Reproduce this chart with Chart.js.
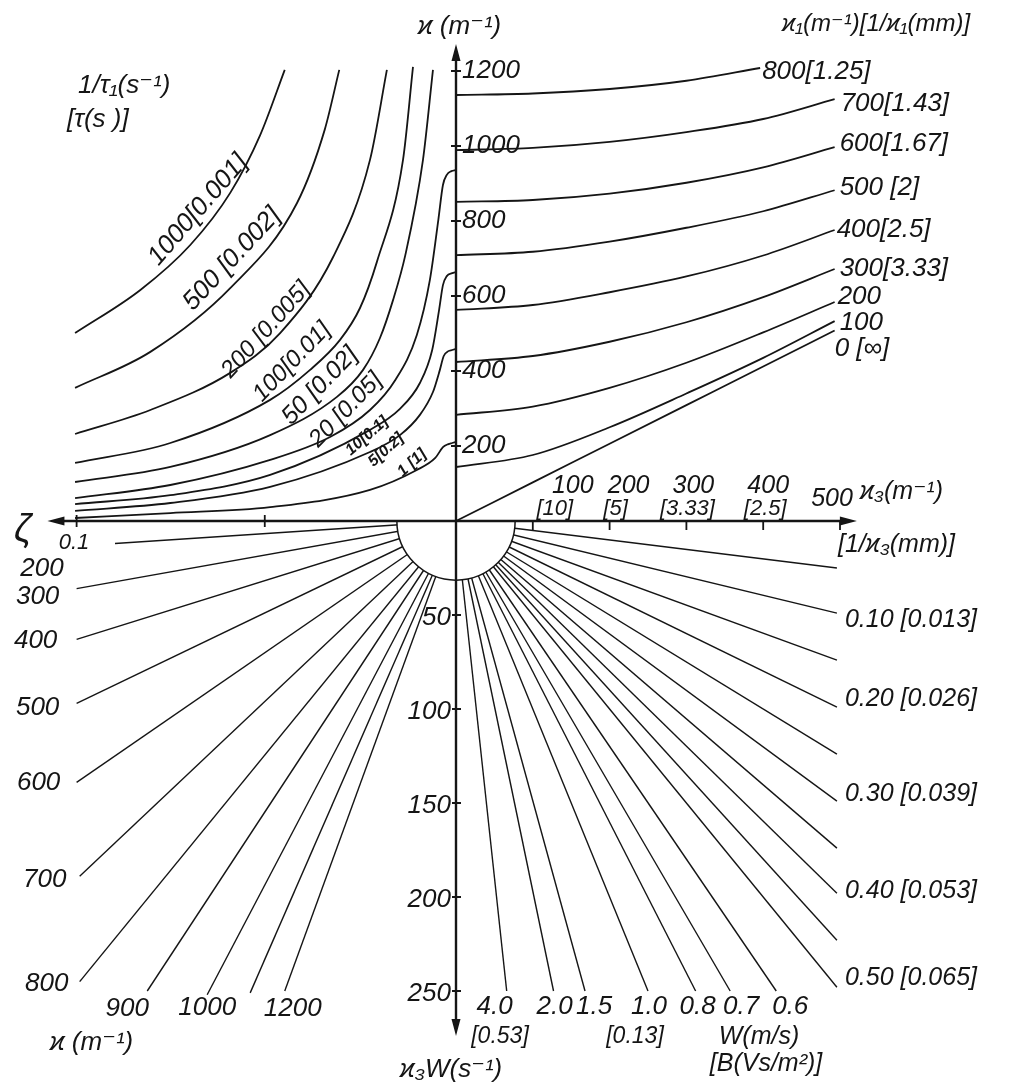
<!DOCTYPE html>
<html lang="en">
<head>
    <meta charset="UTF-8">
    <title>Nomogram</title>
    <script src="https://cdn.jsdelivr.net/npm/chart.js@4"></script>
    <style>
        html, body { margin: 0; padding: 0; background: #fff; overflow: hidden; }
        #wrap { width: 1010px; height: 1089px; position: relative; }
    </style>
</head>
<body>
<div id="wrap"><canvas id="nomo"></canvas></div>
<script>
// ---- values ----
// x runs in kappa3 units (m^-1), upper half in kappa (m^-1), lower half in kappa3*W (s^-1)

// upper right: kappa against kappa3, one curve per kappa1
const k1Tags = ['0 [∞]', '100', '200', '300[3.33]', '400[2.5]', '500 [2]', '600[1.67]', '700[1.43]', '800[1.25]'];
const k3Grid = [0, 100, 200, 300, 400, 493];
const k3Grid800 = [0, 100, 200, 300, 396];
const kappaByK1 = [
    [0, 103, 206, 309, 412, 508],
    [144, 176, 250, 340, 435, 533],
    [283, 305, 355, 422, 503, 584],
    [424, 440, 478, 530, 597, 672],
    [563, 576, 610, 652, 708, 776],
    [709, 718, 745, 782, 826, 882],
    [851, 856, 873, 902, 943, 997],
    [989, 995, 1011, 1037, 1072, 1125],
    [1136, 1140, 1152, 1174, 1208]
];

// upper left: 1/tau1 family
const tauTags = ['1000[0.001]', '500 [0.002]', '200 [0.005]', '100[0.01]', '50 [0.02]', '20 [0.05]', '10[0.1]', '5[0.2]', '1 [1]'];
const tauX = [
    [-496, -411, -346, -294, -255, -223],
    [-496, -398, -294, -207, -171, -152],
    [-496, -398, -294, -229, -160, -112, -90],
    [-496, -372, -242, -190, -151, -125, -103, -69, -56],
    [-496, -372, -242, -155, -121, -99, -82, -66, -43, -30],
    [-496, -372, -242, -164, -112, -79, -51, -34, -23, -17, -12, -6, 0],
    [-496, -372, -242, -112, -73, -47, -31, -22, -17, -12, -5, 0],
    [-496, -372, -242, -112, -73, -47, -30, -21, -16, -10, -5, 0],
    [-496, -372, -242, -112, -51, -27, -17, -10, -5, 0]
];
const tauY = [
    [501, 616, 736, 875, 1029, 1203],
    [355, 451, 621, 848, 1043, 1203],
    [232, 296, 395, 501, 704, 963, 1203],
    [155, 208, 323, 403, 483, 568, 691, 963, 1211],
    [104, 144, 229, 331, 403, 488, 589, 709, 963, 1203],
    [61, 96, 163, 224, 296, 376, 496, 643, 803, 896, 923, 933, 936],
    [45, 69, 123, 243, 299, 368, 456, 563, 629, 653, 661, 664],
    [27, 48, 91, 184, 229, 283, 344, 403, 440, 453, 456, 459],
    [8, 21, 37, 83, 136, 168, 197, 205, 208, 211]
];

// lower left: kappa rays (end points)
const kappaRayTags = ['200', '300', '400', '500', '600', '700', '800', '900', '1000', '', '1200'];
const kappaRayX = [-444, -494, -494, -494, -494, -490, -490, -402, -324, -268, -223];
const kappaRayY = [12, 36, 63, 97, 139, 189, 245, 250, 252, 251, 250];

// lower right: W rays (end points)
const wTags = ['', '0.10 [0.013]', '', '0.20 [0.026]', '', '0.30 [0.039]', '', '0.40 [0.053]', '', '0.50 [0.065]',
               '0.6', '0.7', '0.8', '1.0', '1.5', '2.0', '4.0'];
const wRayX = [496, 496, 496, 496, 496, 496, 496, 496, 496, 496, 417, 357, 312, 250, 168, 127, 66];
const wRayY = [25, 49, 74, 99, 124, 149, 174, 198, 223, 248, 250, 250, 250, 250, 250, 250, 250];

// axis ticks
const kappaTicks = [200, 400, 600, 800, 1000, 1200];
const k3Ticks = [100, 200, 300, 400, 500];
const k3TickSub = ['[10]', '[5]', '[3.33]', '[2.5]', ''];
const wAxisTicks = [50, 100, 150, 200, 250];
const zetaTicks = [-494, -249];

// ---- layout ----
const semiR = 77;                       // half circle round the origin, in x units
const axisEnd = { kappa: 1272, k3: 522, zeta: -532, w: 274 };
const INK = '#151515';
const font = (size, bold) => `italic ${bold ? 'bold ' : ''}${size}px "Liberation Sans", "DejaVu Sans", sans-serif`;

// label offsets (px) from the end of their line
const k1LabelOff = [[0, 18], [5, 2], [3, -5], [5, 0], [2, 0], [5, -2], [5, -3], [6, 5], [2, 4]];
const kappaRayLabelOff = [[-73, 25], [-39, 8], [-41, 1], [-39, 4], [-38, 0], [-35, 3], [-33, 2], [-20, 18], [0, 13], [0, 0], [8, 18]];
const wLabelOff = [[8, 0], [8, 7], [8, 0], [8, -8], [8, 0], [8, -7], [8, 0], [8, -2], [8, 0], [8, -9],
                   [14, 16], [11, 16], [2, 16], [1, 16], [9, 16], [1, 16], [-12, 16]];
// rotated labels of the 1/tau1 curves: centre x, centre y, angle, size
const tauLabelAt = [
    [198, 210, -49, 26], [232, 259, -47, 26], [266, 330, -48, 24], [292, 362, -46, 24], [320, 386, -46, 25],
    [346, 410, -46, 24], [367, 436, -41, 16], [386, 450, -42, 16], [412, 463, -42, 16]
];
const freeText = [
    ['ϰ (m⁻¹)', 418, 27, 'left', 26],
    ['ϰ₁(m⁻¹)[1/ϰ₁(mm)]', 782, 24, 'left', 24],
    ['1/τ₁(s⁻¹)', 78, 86, 'left', 26],
    ['[τ(s )]', 67, 120, 'left', 26],
    ['ϰ₃(m⁻¹)', 860, 492, 'left', 25],
    ['[1/ϰ₃(mm)]', 838, 545, 'left', 25],
    ['ζ', 14, 530, 'left', 38],
    ['0.1', 74, 543, 'center', 22],
    ['ϰ (m⁻¹)', 50, 1043, 'left', 26],
    ['ϰ₃W(s⁻¹)', 400, 1070, 'left', 26],
    ['[0.53]', 500, 1037, 'center', 23],
    ['[0.13]', 635, 1037, 'center', 23],
    ['W(m/s)', 759, 1037, 'center', 25],
    ['[B(Vs/m²)]', 766, 1064, 'center', 25]
];

const line = (xs, ys, axis, smooth) => ({
    data: xs.map((v, i) => ({ x: v, y: ys[i] })),
    showLine: true,
    borderColor: INK,
    borderWidth: smooth ? 1.8 : 1.4,
    pointRadius: 0,
    fill: false,
    tension: 0,
    cubicInterpolationMode: smooth ? 'monotone' : 'default',
    yAxisID: axis
});

const datasets = [];
kappaByK1.forEach((ys, i) => datasets.push(line(i === 8 ? k3Grid800 : k3Grid, ys, 'y', true)));
tauX.forEach((xs, i) => datasets.push(line(xs, tauY[i], 'y', true)));
kappaRayX.forEach((ex, i) => datasets.push(line([0, ex], [0, kappaRayY[i]], 'y2', false)));
wRayX.forEach((ex, i) => datasets.push(line([0, ex], [0, wRayY[i]], 'y2', false)));

const nomoDecor = {
    id: 'nomoDecor',
    afterDatasetsDraw(chart) {
        const { ctx, scales: { x, y, y2 } } = chart;
        const ox = x.getPixelForValue(0), oy = y.getPixelForValue(0);
        const text = (s, tx, ty, align, size, bold) => {
            ctx.font = font(size, bold);
            ctx.textAlign = align;
            ctx.textBaseline = 'middle';
            ctx.fillText(s, tx, ty);
        };
        ctx.save();
        ctx.fillStyle = INK;
        ctx.strokeStyle = INK;

        // half circle hides the ray roots
        const r = x.getPixelForValue(semiR) - ox;
        ctx.beginPath();
        ctx.arc(ox, oy, r, 0, Math.PI);
        ctx.closePath();
        ctx.fillStyle = '#fff';
        ctx.fill();
        ctx.fillStyle = INK;
        ctx.lineWidth = 1.5;
        ctx.beginPath();
        ctx.arc(ox, oy, r, 0, Math.PI);
        ctx.stroke();

        // axes
        const left = x.getPixelForValue(axisEnd.zeta), right = x.getPixelForValue(axisEnd.k3);
        const top = y.getPixelForValue(axisEnd.kappa), bottom = y2.getPixelForValue(axisEnd.w);
        ctx.lineWidth = 2.4;
        ctx.beginPath();
        ctx.moveTo(left + 10, oy); ctx.lineTo(right - 10, oy);
        ctx.moveTo(ox, top + 10); ctx.lineTo(ox, bottom - 10);
        ctx.stroke();
        const arrow = (tx, ty, dx, dy) => {
            ctx.beginPath();
            ctx.moveTo(tx, ty);
            ctx.lineTo(tx - dx * 17 - dy * 4.5, ty - dy * 17 + dx * 4.5);
            ctx.lineTo(tx - dx * 17 + dy * 4.5, ty - dy * 17 - dx * 4.5);
            ctx.closePath();
            ctx.fill();
        };
        arrow(left, oy, -1, 0);
        arrow(right, oy, 1, 0);
        arrow(ox, top, 0, -1);
        arrow(ox, bottom, 0, 1);

        // ticks
        ctx.lineWidth = 1.8;
        ctx.beginPath();
        kappaTicks.forEach(v => { const p = y.getPixelForValue(v); ctx.moveTo(ox - 5, p); ctx.lineTo(ox + 5, p); });
        k3Ticks.forEach(v => { const p = x.getPixelForValue(v); ctx.moveTo(p, oy); ctx.lineTo(p, oy + 9); });
        wAxisTicks.forEach(v => { const p = y2.getPixelForValue(v); ctx.moveTo(ox - 4, p); ctx.lineTo(ox + 5, p); });
        zetaTicks.forEach(v => { const p = x.getPixelForValue(v); ctx.moveTo(p, oy - 6); ctx.lineTo(p, oy + 6); });
        ctx.stroke();

        kappaTicks.forEach(v => text(String(v), ox + 6, y.getPixelForValue(v), 'left', 26));
        const k3Dx = [40, 19, 7, 5, -8], k3Dy = [-35, -35, -35, -35, -22], subDx = [22, 6, 1, 2, 0];
        k3Ticks.forEach((v, i) => {
            const p = x.getPixelForValue(v);
            text(String(v), p + k3Dx[i], oy + k3Dy[i], 'center', 25);
            if (k3TickSub[i]) text(k3TickSub[i], p + subDx[i], oy - 12, 'center', 22);
        });
        wAxisTicks.forEach(v => text(String(v), ox - 5, y2.getPixelForValue(v) + 3, 'right', 26));

        // curve labels
        kappaByK1.forEach((ys, i) => {
            const xs = i === 8 ? k3Grid800 : k3Grid;
            const n = ys.length - 1;
            text(k1Tags[i], x.getPixelForValue(xs[n]) + k1LabelOff[i][0], y.getPixelForValue(ys[n]) + k1LabelOff[i][1], 'left', 26);
        });
        kappaRayTags.forEach((s, i) => {
            if (!s) return;
            text(s, x.getPixelForValue(kappaRayX[i]) + kappaRayLabelOff[i][0],
                 y2.getPixelForValue(kappaRayY[i]) + kappaRayLabelOff[i][1], 'center', 26);
        });
        wTags.forEach((s, i) => {
            if (!s) return;
            const onRight = i < 10;
            text(s, x.getPixelForValue(wRayX[i]) + wLabelOff[i][0], y2.getPixelForValue(wRayY[i]) + wLabelOff[i][1],
                 onRight ? 'left' : 'center', onRight ? 25 : 26);
        });
        tauTags.forEach((s, i) => {
            const [cx, cy, ang, size] = tauLabelAt[i];
            ctx.save();
            ctx.translate(cx, cy);
            ctx.rotate(ang * Math.PI / 180);
            text(s, 0, 0, 'center', size, size < 20);
            ctx.restore();
        });

        freeText.forEach(([s, tx, ty, align, size]) => text(s, tx, ty, align, size));
        ctx.restore();
    }
};

new Chart(document.getElementById('nomo').getContext('2d'), {
    type: 'scatter',
    data: { datasets },
    options: {
        responsive: true,
        maintainAspectRatio: false,
        animation: false,
        layout: { padding: 0 },
        plugins: { legend: { display: false }, tooltip: { enabled: false } },
        scales: {
            x: { type: 'linear', min: -593.75, max: 721.35, display: false },
            y: { type: 'linear', min: -1514.67, max: 1389.33, display: false },
            y2: { type: 'linear', min: -277.13, max: 302.13, reverse: true, display: false }
        }
    },
    plugins: [nomoDecor]
});
</script>
</body>
</html>
